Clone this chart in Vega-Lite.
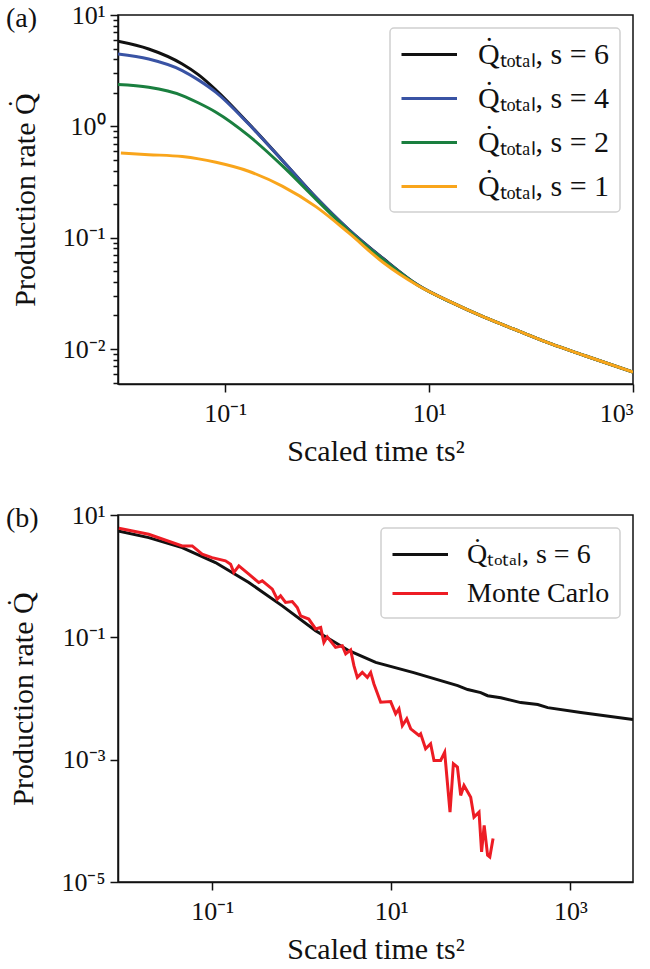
{
  "$schema": "https://vega.github.io/schema/vega-lite/v6.json",
  "background": "white",
  "padding": {"left": 5, "top": 1, "right": 0, "bottom": 0},
  "config": {
    "font": "Liberation Serif",
    "view": {"stroke": "#111111", "strokeWidth": 1.5},
    "axis": {
      "domainColor": "#111111", "domainWidth": 1.5,
      "tickColor": "#111111", "tickWidth": 1.5, "tickSize": 8,
      "labelFont": "Liberation Serif", "labelFontSize": 26, "labelColor": "#111111", "labelPadding": 5,
      "titleFont": "Liberation Serif", "titleFontSize": 30, "titleFontWeight": "normal", "titleColor": "#111111",
      "grid": false
    },
    "axisX": {"labelPadding": 8, "titlePadding": 10},
    "axisY": {"titlePadding": 22},
    "legend": {
      "labelFont": "Liberation Serif", "labelFontSize": 28, "labelColor": "#111111",
      "strokeColor": "#d0d0d0", "fillColor": "white", "cornerRadius": 4, "strokeWidth": 1.5
    },
    "title": {"font": "Liberation Serif", "fontSize": 28, "fontWeight": "normal", "color": "#111111"}
  },
  "spacing": 34,
  "resolve": {"scale": {"color": "independent"}, "legend": {"color": "independent"}},
  "datasets": {
    "a": [
      {"t": 0.0089, "q": 5.8, "series": "Q̇ₜₒₜₐₗ, s = 6"},
      {"t": 0.0178, "q": 4.95, "series": "Q̇ₜₒₜₐₗ, s = 6"},
      {"t": 0.038, "q": 3.63, "series": "Q̇ₜₒₜₐₗ, s = 6"},
      {"t": 0.055, "q": 2.9, "series": "Q̇ₜₒₜₐₗ, s = 6"},
      {"t": 0.0813, "q": 2.12, "series": "Q̇ₜₒₜₐₗ, s = 6"},
      {"t": 0.17, "q": 1.06, "series": "Q̇ₜₒₜₐₗ, s = 6"},
      {"t": 0.363, "q": 0.497, "series": "Q̇ₜₒₜₐₗ, s = 6"},
      {"t": 0.776, "q": 0.231, "series": "Q̇ₜₒₜₐₗ, s = 6"},
      {"t": 1.62, "q": 0.119, "series": "Q̇ₜₒₜₐₗ, s = 6"},
      {"t": 3.55, "q": 0.065, "series": "Q̇ₜₒₜₐₗ, s = 6"},
      {"t": 7.76, "q": 0.0375, "series": "Q̇ₜₒₜₐₗ, s = 6"},
      {"t": 16.6, "q": 0.0262, "series": "Q̇ₜₒₜₐₗ, s = 6"},
      {"t": 34.7, "q": 0.0193, "series": "Q̇ₜₒₜₐₗ, s = 6"},
      {"t": 75.9, "q": 0.0145, "series": "Q̇ₜₒₜₐₗ, s = 6"},
      {"t": 158, "q": 0.0111, "series": "Q̇ₜₒₜₐₗ, s = 6"},
      {"t": 339, "q": 0.0087, "series": "Q̇ₜₒₜₐₗ, s = 6"},
      {"t": 1000, "q": 0.0062, "series": "Q̇ₜₒₜₐₗ, s = 6"},

      {"t": 0.0089, "q": 4.46, "series": "Q̇ₜₒₜₐₗ, s = 4"},
      {"t": 0.0178, "q": 4.02, "series": "Q̇ₜₒₜₐₗ, s = 4"},
      {"t": 0.038, "q": 3.17, "series": "Q̇ₜₒₜₐₗ, s = 4"},
      {"t": 0.055, "q": 2.6, "series": "Q̇ₜₒₜₐₗ, s = 4"},
      {"t": 0.0813, "q": 2.02, "series": "Q̇ₜₒₜₐₗ, s = 4"},
      {"t": 0.17, "q": 1.05, "series": "Q̇ₜₒₜₐₗ, s = 4"},
      {"t": 0.363, "q": 0.495, "series": "Q̇ₜₒₜₐₗ, s = 4"},
      {"t": 0.776, "q": 0.23, "series": "Q̇ₜₒₜₐₗ, s = 4"},
      {"t": 1.62, "q": 0.119, "series": "Q̇ₜₒₜₐₗ, s = 4"},
      {"t": 3.55, "q": 0.0645, "series": "Q̇ₜₒₜₐₗ, s = 4"},
      {"t": 7.76, "q": 0.0375, "series": "Q̇ₜₒₜₐₗ, s = 4"},
      {"t": 16.6, "q": 0.0262, "series": "Q̇ₜₒₜₐₗ, s = 4"},
      {"t": 34.7, "q": 0.0193, "series": "Q̇ₜₒₜₐₗ, s = 4"},
      {"t": 75.9, "q": 0.0145, "series": "Q̇ₜₒₜₐₗ, s = 4"},
      {"t": 158, "q": 0.0111, "series": "Q̇ₜₒₜₐₗ, s = 4"},
      {"t": 339, "q": 0.0087, "series": "Q̇ₜₒₜₐₗ, s = 4"},
      {"t": 1000, "q": 0.0062, "series": "Q̇ₜₒₜₐₗ, s = 4"},

      {"t": 0.0089, "q": 2.37, "series": "Q̇ₜₒₜₐₗ, s = 2"},
      {"t": 0.0178, "q": 2.24, "series": "Q̇ₜₒₜₐₗ, s = 2"},
      {"t": 0.038, "q": 1.89, "series": "Q̇ₜₒₜₐₗ, s = 2"},
      {"t": 0.055, "q": 1.62, "series": "Q̇ₜₒₜₐₗ, s = 2"},
      {"t": 0.0813, "q": 1.34, "series": "Q̇ₜₒₜₐₗ, s = 2"},
      {"t": 0.17, "q": 0.825, "series": "Q̇ₜₒₜₐₗ, s = 2"},
      {"t": 0.363, "q": 0.443, "series": "Q̇ₜₒₜₐₗ, s = 2"},
      {"t": 0.776, "q": 0.222, "series": "Q̇ₜₒₜₐₗ, s = 2"},
      {"t": 1.62, "q": 0.116, "series": "Q̇ₜₒₜₐₗ, s = 2"},
      {"t": 3.55, "q": 0.0635, "series": "Q̇ₜₒₜₐₗ, s = 2"},
      {"t": 7.76, "q": 0.0374, "series": "Q̇ₜₒₜₐₗ, s = 2"},
      {"t": 16.6, "q": 0.0262, "series": "Q̇ₜₒₜₐₗ, s = 2"},
      {"t": 34.7, "q": 0.0193, "series": "Q̇ₜₒₜₐₗ, s = 2"},
      {"t": 75.9, "q": 0.0145, "series": "Q̇ₜₒₜₐₗ, s = 2"},
      {"t": 158, "q": 0.0111, "series": "Q̇ₜₒₜₐₗ, s = 2"},
      {"t": 339, "q": 0.0087, "series": "Q̇ₜₒₜₐₗ, s = 2"},
      {"t": 1000, "q": 0.0062, "series": "Q̇ₜₒₜₐₗ, s = 2"},

      {"t": 0.0095, "q": 0.575, "series": "Q̇ₜₒₜₐₗ, s = 1"},
      {"t": 0.0178, "q": 0.557, "series": "Q̇ₜₒₜₐₗ, s = 1"},
      {"t": 0.038, "q": 0.535, "series": "Q̇ₜₒₜₐₗ, s = 1"},
      {"t": 0.055, "q": 0.51, "series": "Q̇ₜₒₜₐₗ, s = 1"},
      {"t": 0.0813, "q": 0.475, "series": "Q̇ₜₒₜₐₗ, s = 1"},
      {"t": 0.17, "q": 0.395, "series": "Q̇ₜₒₜₐₗ, s = 1"},
      {"t": 0.363, "q": 0.29, "series": "Q̇ₜₒₜₐₗ, s = 1"},
      {"t": 0.776, "q": 0.19, "series": "Q̇ₜₒₜₐₗ, s = 1"},
      {"t": 1.62, "q": 0.111, "series": "Q̇ₜₒₜₐₗ, s = 1"},
      {"t": 3.55, "q": 0.0598, "series": "Q̇ₜₒₜₐₗ, s = 1"},
      {"t": 7.76, "q": 0.0372, "series": "Q̇ₜₒₜₐₗ, s = 1"},
      {"t": 16.6, "q": 0.0262, "series": "Q̇ₜₒₜₐₗ, s = 1"},
      {"t": 34.7, "q": 0.0193, "series": "Q̇ₜₒₜₐₗ, s = 1"},
      {"t": 75.9, "q": 0.0145, "series": "Q̇ₜₒₜₐₗ, s = 1"},
      {"t": 158, "q": 0.0111, "series": "Q̇ₜₒₜₐₗ, s = 1"},
      {"t": 339, "q": 0.0087, "series": "Q̇ₜₒₜₐₗ, s = 1"},
      {"t": 1000, "q": 0.0062, "series": "Q̇ₜₒₜₐₗ, s = 1"}
    ],
    "b": [
      {"t": 0.0089, "q": 5.48, "series": "Q̇ₜₒₜₐₗ, s = 6"},
      {"t": 0.0196, "q": 4.27, "series": "Q̇ₜₒₜₐₗ, s = 6"},
      {"t": 0.0463, "q": 2.93, "series": "Q̇ₜₒₜₐₗ, s = 6"},
      {"t": 0.109, "q": 1.67, "series": "Q̇ₜₒₜₐₗ, s = 6"},
      {"t": 0.257, "q": 0.787, "series": "Q̇ₜₒₜₐₗ, s = 6"},
      {"t": 0.607, "q": 0.327, "series": "Q̇ₜₒₜₐₗ, s = 6"},
      {"t": 1.43, "q": 0.128, "series": "Q̇ₜₒₜₐₗ, s = 6"},
      {"t": 3.37, "q": 0.0604, "series": "Q̇ₜₒₜₐₗ, s = 6"},
      {"t": 6.7, "q": 0.039, "series": "Q̇ₜₒₜₐₗ, s = 6"},
      {"t": 17.8, "q": 0.0265, "series": "Q̇ₜₒₜₐₗ, s = 6"},
      {"t": 55.2, "q": 0.0162, "series": "Q̇ₜₒₜₐₗ, s = 6"},
      {"t": 71.3, "q": 0.014, "series": "Q̇ₜₒₜₐₗ, s = 6"},
      {"t": 99.8, "q": 0.0125, "series": "Q̇ₜₒₜₐₗ, s = 6"},
      {"t": 119, "q": 0.0111, "series": "Q̇ₜₒₜₐₗ, s = 6"},
      {"t": 167, "q": 0.0103, "series": "Q̇ₜₒₜₐₗ, s = 6"},
      {"t": 279, "q": 0.00857, "series": "Q̇ₜₒₜₐₗ, s = 6"},
      {"t": 432, "q": 0.00795, "series": "Q̇ₜₒₜₐₗ, s = 6"},
      {"t": 558, "q": 0.00709, "series": "Q̇ₜₒₜₐₗ, s = 6"},
      {"t": 1306, "q": 0.00589, "series": "Q̇ₜₒₜₐₗ, s = 6"},
      {"t": 5000, "q": 0.00453, "series": "Q̇ₜₒₜₐₗ, s = 6"},

      {"t": 0.0091, "q": 6.07, "series": "Monte Carlo"},
      {"t": 0.0196, "q": 4.84, "series": "Monte Carlo"},
      {"t": 0.0463, "q": 3.12, "series": "Monte Carlo"},
      {"t": 0.06, "q": 3.12, "series": "Monte Carlo"},
      {"t": 0.0775, "q": 2.29, "series": "Monte Carlo"},
      {"t": 0.1, "q": 2.01, "series": "Monte Carlo"},
      {"t": 0.141, "q": 1.78, "series": "Monte Carlo"},
      {"t": 0.161, "q": 1.57, "series": "Monte Carlo"},
      {"t": 0.175, "q": 1.15, "series": "Monte Carlo"},
      {"t": 0.199, "q": 1.47, "series": "Monte Carlo"},
      {"t": 0.257, "q": 1.08, "series": "Monte Carlo"},
      {"t": 0.332, "q": 0.787, "series": "Monte Carlo"},
      {"t": 0.363, "q": 0.838, "series": "Monte Carlo"},
      {"t": 0.47, "q": 0.614, "series": "Monte Carlo"},
      {"t": 0.534, "q": 0.422, "series": "Monte Carlo"},
      {"t": 0.581, "q": 0.478, "series": "Monte Carlo"},
      {"t": 0.661, "q": 0.371, "series": "Monte Carlo"},
      {"t": 0.785, "q": 0.385, "series": "Monte Carlo"},
      {"t": 0.893, "q": 0.308, "series": "Monte Carlo"},
      {"t": 0.973, "q": 0.225, "series": "Monte Carlo"},
      {"t": 1.2, "q": 0.199, "series": "Monte Carlo"},
      {"t": 1.43, "q": 0.137, "series": "Monte Carlo"},
      {"t": 1.63, "q": 0.145, "series": "Monte Carlo"},
      {"t": 1.77, "q": 0.0826, "series": "Monte Carlo"},
      {"t": 1.93, "q": 0.102, "series": "Monte Carlo"},
      {"t": 2.39, "q": 0.0684, "series": "Monte Carlo"},
      {"t": 2.84, "q": 0.0729, "series": "Monte Carlo"},
      {"t": 3.1, "q": 0.0535, "series": "Monte Carlo"},
      {"t": 3.52, "q": 0.0621, "series": "Monte Carlo"},
      {"t": 3.83, "q": 0.0344, "series": "Monte Carlo"},
      {"t": 4.18, "q": 0.0222, "series": "Monte Carlo"},
      {"t": 4.75, "q": 0.0267, "series": "Monte Carlo"},
      {"t": 5.41, "q": 0.0222, "series": "Monte Carlo"},
      {"t": 5.89, "q": 0.0267, "series": "Monte Carlo"},
      {"t": 6.41, "q": 0.0173, "series": "Monte Carlo"},
      {"t": 7.62, "q": 0.00867, "series": "Monte Carlo"},
      {"t": 9.85, "q": 0.00889, "series": "Monte Carlo"},
      {"t": 11.2, "q": 0.00561, "series": "Monte Carlo"},
      {"t": 12.2, "q": 0.00677, "series": "Monte Carlo"},
      {"t": 13.3, "q": 0.00361, "series": "Monte Carlo"},
      {"t": 14.9, "q": 0.00465, "series": "Monte Carlo"},
      {"t": 16.5, "q": 0.00319, "series": "Monte Carlo"},
      {"t": 20.4, "q": 0.00248, "series": "Monte Carlo"},
      {"t": 21.3, "q": 0.00265, "series": "Monte Carlo"},
      {"t": 24.2, "q": 0.00151, "series": "Monte Carlo"},
      {"t": 27.5, "q": 0.00182, "series": "Monte Carlo"},
      {"t": 30.0, "q": 0.00097, "series": "Monte Carlo"},
      {"t": 35.6, "q": 0.00097, "series": "Monte Carlo"},
      {"t": 39.5, "q": 0.00132, "series": "Monte Carlo"},
      {"t": 45.3, "q": 0.000139, "series": "Monte Carlo"},
      {"t": 49.4, "q": 0.000857, "series": "Monte Carlo"},
      {"t": 54.8, "q": 0.000755, "series": "Monte Carlo"},
      {"t": 59.6, "q": 0.00026, "series": "Monte Carlo"},
      {"t": 64.9, "q": 0.000379, "series": "Monte Carlo"},
      {"t": 77.1, "q": 0.000244, "series": "Monte Carlo"},
      {"t": 83.9, "q": 0.000115, "series": "Monte Carlo"},
      {"t": 95.5, "q": 0.000139, "series": "Monte Carlo"},
      {"t": 102, "q": 0.000031, "series": "Monte Carlo"},
      {"t": 109, "q": 0.0000845, "series": "Monte Carlo"},
      {"t": 119, "q": 0.0000274, "series": "Monte Carlo"},
      {"t": 126, "q": 0.0000256, "series": "Monte Carlo"},
      {"t": 137, "q": 0.0000513, "series": "Monte Carlo"}
    ]
  },
  "vconcat": [
    {
      "width": 515,
      "height": 369,
      "title": {"text": "(a)", "anchor": "start", "frame": "group", "dx": -112, "offset": -31},
      "data": {"name": "a"},
      "resolve": {"axis": {"y": "independent"}},
      "layer": [
        {
          "mark": {"type": "line", "strokeWidth": 3, "interpolate": "monotone", "clip": true},
          "encoding": {
            "x": {
              "field": "t", "type": "quantitative",
              "scale": {"type": "log", "domain": [0.0089, 1000], "nice": false},
              "axis": {"values": [0.1, 10, 1000], "title": "Scaled time ts²",
                "labelExpr": "'10' + replace(replace(replace(replace(replace(replace(replace('' + round(log(datum.value)/LN10), '-', '⁻'), '0', '⁰'), '1', '¹'), '2', '²'), '3', '³'), '5', '⁵'), '4', '⁴')"}
            },
            "y": {
              "field": "q", "type": "quantitative",
              "scale": {"type": "log", "domain": [0.00485, 10], "nice": false},
              "axis": {"orient": "left", "values": [0.01, 0.1, 1, 10], "title": "Production rate Q̇",
                "labelExpr": "'10' + replace(replace(replace(replace(replace(replace(replace('' + round(log(datum.value)/LN10), '-', '⁻'), '0', '⁰'), '1', '¹'), '2', '²'), '3', '³'), '5', '⁵'), '4', '⁴')"}
            },
            "color": {
              "field": "series", "type": "nominal",
              "scale": {
                "domain": ["Q̇ₜₒₜₐₗ, s = 6", "Q̇ₜₒₜₐₗ, s = 4", "Q̇ₜₒₜₐₗ, s = 2", "Q̇ₜₒₜₐₗ, s = 1"],
                "range": ["#111111", "#3953a4", "#1a7f3f", "#f9a51b"]
              },
              "legend": {
                "title": null, "orient": "top-right", "offset": 13, "padding": 10,
                "symbolType": "M-1,0H2.7", "symbolSize": 900, "symbolStrokeWidth": 3,
                "labelOffset": 45, "rowPadding": 12, "labelFontSize": 30
              }
            }
          }
        },
        {
          "mark": {"type": "line", "strokeOpacity": 0},
          "encoding": {
            "x": {"field": "t", "type": "quantitative"},
            "y": {
              "field": "q", "type": "quantitative",
              "axis": {"orient": "left", "values": [0.005, 0.006, 0.007, 0.008, 0.009, 0.02, 0.03, 0.04, 0.05, 0.06, 0.07, 0.08, 0.09, 0.2, 0.3, 0.4, 0.5, 0.6, 0.7, 0.8, 0.9, 2, 3, 4, 5, 6, 7, 8, 9],
                "labels": false, "domain": false, "title": null, "tickSize": 5}
            }
          }
        }
      ]
    },
    {
      "width": 515,
      "height": 367,
      "title": {"text": "(b)", "anchor": "start", "frame": "group", "dx": -112, "offset": -31},
      "data": {"name": "b"},
      "mark": {"type": "line", "strokeWidth": 3, "clip": true},
      "encoding": {
        "x": {
          "field": "t", "type": "quantitative",
          "scale": {"type": "log", "domain": [0.0089, 5000], "nice": false},
          "axis": {"values": [0.1, 10, 1000], "title": "Scaled time ts²",
            "labelExpr": "'10' + replace(replace(replace(replace(replace(replace(replace('' + round(log(datum.value)/LN10), '-', '⁻'), '0', '⁰'), '1', '¹'), '2', '²'), '3', '³'), '5', '⁵'), '4', '⁴')"}
        },
        "y": {
          "field": "q", "type": "quantitative",
          "scale": {"type": "log", "domain": [0.00001, 10], "nice": false},
          "axis": {"values": [0.00001, 0.001, 0.1, 10], "title": "Production rate Q̇",
            "labelExpr": "'10' + replace(replace(replace(replace(replace(replace(replace('' + round(log(datum.value)/LN10), '-', '⁻'), '0', '⁰'), '1', '¹'), '2', '²'), '3', '³'), '5', '⁵'), '4', '⁴')"}
        },
        "color": {
          "field": "series", "type": "nominal",
          "scale": {"domain": ["Q̇ₜₒₜₐₗ, s = 6", "Monte Carlo"], "range": ["#111111", "#ed1c24"]},
          "legend": {
            "title": null, "orient": "top-right", "offset": 13, "padding": 10,
            "symbolType": "M-1,0H2.7", "symbolSize": 900, "symbolStrokeWidth": 3,
            "labelOffset": 43, "rowPadding": 8
          }
        }
      }
    }
  ]
}
